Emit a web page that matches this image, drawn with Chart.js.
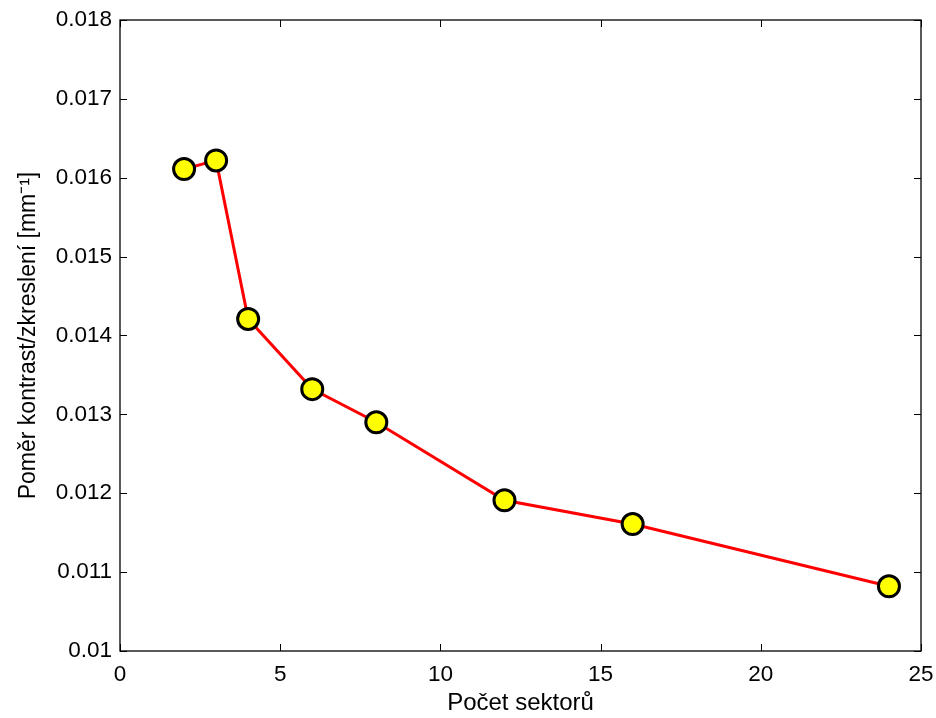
<!DOCTYPE html>
<html>
<head>
<meta charset="utf-8">
<script src="https://cdn.jsdelivr.net/npm/chart.js@4/dist/chart.umd.min.js"></script>
<style>
html,body{margin:0;padding:0;background:#fff;}
#wrap{width:936px;height:718px;}
</style>
</head>
<body>
<div id="wrap"><canvas id="c" width="936" height="718"></canvas></div>
<script>
const sectors = [2, 3, 4, 6, 8, 12, 16, 24];
const ratio = [0.01611, 0.01622, 0.01421, 0.01332, 0.01290, 0.01191, 0.01161, 0.01082];
const xTicks = [0, 5, 10, 15, 20, 25];
const yTicks = [0.010, 0.011, 0.012, 0.013, 0.014, 0.015, 0.016, 0.017, 0.018];
const xTitle = 'Počet sektorů';
const yTitle = 'Poměr kontrast/zkreslení [mm⁻¹]';

const FONT = 'Liberation Sans, Arial, sans-serif';

const boxPlugin = {
  id: 'boxTicks',
  afterDatasetsDraw(chart) {
    const {ctx, chartArea: a, scales: {x, y}} = chart;
    ctx.save();
    ctx.strokeStyle = '#000';
    ctx.lineWidth = 1;
    const L = 7;
    ctx.beginPath();
    xTicks.forEach(v => {
      const px = Math.round(x.getPixelForValue(v)) + 0.5;
      ctx.moveTo(px, a.bottom); ctx.lineTo(px, a.bottom - L);
      ctx.moveTo(px, a.top); ctx.lineTo(px, a.top + L);
    });
    yTicks.forEach(v => {
      const py = Math.round(y.getPixelForValue(v)) + 0.5;
      ctx.moveTo(a.left, py); ctx.lineTo(a.left + L, py);
      ctx.moveTo(a.right, py); ctx.lineTo(a.right - L, py);
    });
    ctx.stroke();
    ctx.lineWidth = 1.3;
    ctx.strokeRect(a.left, a.top, a.right - a.left, a.bottom - a.top);
    ctx.restore();
  }
};

new Chart(document.getElementById('c'), {
  type: 'line',
  data: {
    datasets: [{
      data: sectors.map((s, i) => ({x: s, y: ratio[i]})),
      borderColor: '#ff0000',
      borderWidth: 3,
      pointRadius: 10.5,
      pointBorderWidth: 3,
      pointBackgroundColor: '#ffff00',
      pointBorderColor: '#000000',
      tension: 0,
      clip: false
    }]
  },
  options: {
    responsive: false,
    animation: false,
    devicePixelRatio: 1,
    layout: {padding: {top: 20, right: 15, left: 0, bottom: 0}},
    plugins: {legend: {display: false}, tooltip: {enabled: false}},
    scales: {
      x: {
        type: 'linear',
        min: 0, max: 25,
        afterBuildTicks: s => { s.ticks = xTicks.map(v => ({value: v})); },
        afterFit: s => { s.height = 67; s.paddingLeft = 0; s.paddingRight = 0; },
        grid: {display: false, drawTicks: false},
        border: {display: false},
        ticks: {
          color: '#000',
          font: {family: FONT, size: 22.5},
          padding: 10,
          maxRotation: 0,
          callback: v => String(v)
        },
        title: {
          display: true, text: xTitle, color: '#000',
          font: {family: FONT, size: 24},
          padding: {top: 0, bottom: 0}
        }
      },
      y: {
        type: 'linear',
        min: 0.010, max: 0.018,
        afterBuildTicks: s => { s.ticks = yTicks.map(v => ({value: v})); },
        afterFit: s => { s.width = 120; s.paddingTop = 0; s.paddingBottom = 0; },
        grid: {display: false, drawTicks: false},
        border: {display: false},
        ticks: {
          color: '#000',
          font: {family: FONT, size: 22.5},
          padding: 8,
          callback: v => String(Number(v.toFixed(3)))
        },
        title: {
          display: true, text: yTitle, color: '#000',
          font: {family: FONT, size: 23},
          padding: {top: 15, bottom: 0}
        }
      }
    }
  },
  plugins: [boxPlugin]
});
</script>
</body>
</html>
